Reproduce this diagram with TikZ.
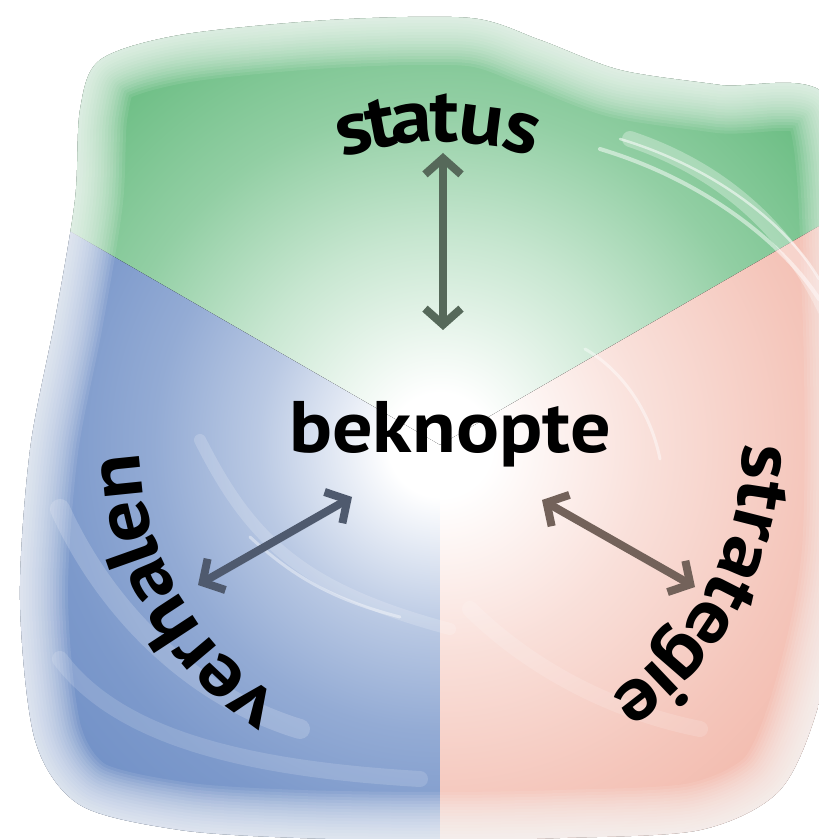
\documentclass[tikz,border=0pt]{standalone}
\usepackage{fontspec}
\setmainfont{PT Sans}
\newfontfamily\wordfont[FakeStretch=1.1]{PT Sans}
\usetikzlibrary{arrows.meta}
\definecolor{gr}{HTML}{5FB879}
\definecolor{bl}{HTML}{6587C2}
\definecolor{rd}{HTML}{E8826A}
\definecolor{arrG}{HTML}{56695A}
\definecolor{arrB}{HTML}{4F5A6E}
\definecolor{arrR}{HTML}{73625A}
\pgfdeclareradialshading{grshade}{\pgfpoint{0bp}{0bp}}{color(0bp)=(white); color(2bp)=(white); color(8bp)=(gr!35); color(13bp)=(gr!68); color(18bp)=(gr!90); color(23bp)=(gr!88); color(27bp)=(gr!55); color(32bp)=(gr!40); color(50bp)=(gr!25)}
\pgfdeclareradialshading{blshade}{\pgfpoint{0bp}{0bp}}{color(0bp)=(white); color(2bp)=(white); color(7bp)=(bl!45); color(11bp)=(bl!70); color(15bp)=(bl!85); color(22bp)=(bl!98); color(30bp)=(bl!92); color(50bp)=(bl!80)}
\pgfdeclareradialshading{rdshade}{\pgfpoint{0bp}{0bp}}{color(0bp)=(white); color(2bp)=(white); color(8bp)=(rd!25); color(14bp)=(rd!45); color(19bp)=(rd!58); color(24bp)=(rd!85); color(28bp)=(rd!82); color(33bp)=(rd!55); color(50bp)=(rd!40)}
\begin{document}
\begin{tikzpicture}[x=1pt,y=1pt,
  lett/.style={font=\fontsize{76}{88}\selectfont\wordfont\bfseries, inner sep=0pt, anchor=base, text=black},
  arr/.style={line width=8pt, {Straight Barb[length=16pt,width=36pt]}-{Straight Barb[length=16pt,width=36pt]}},
  streak/.style={white, line cap=round}]
\useasboundingbox (0,0) rectangle (819,839);
\fill[white] (0,0) rectangle (819,839);
\coordinate (C) at (440,394);
\def\blob{plot[smooth cycle] coordinates {(100,779) (180,804) (330,819) (470,821) (540,799) (620,769) (720,754) (830,739) (850,539) (850,289) (820,139) (780,49) (700,9) (560,1) (440,-1) (300,1) (180,9) (80,34) (35,99) (20,239) (30,389) (55,519) (75,639) (80,729)}}
\begin{scope}
  \clip \blob;
  % sectors
  \begin{scope}
    \clip (C) -- ++(30:1200) arc[start angle=30, end angle=150, radius=1200] -- cycle;
    \fill[shading=grshade] (C) circle[radius=650];
  \end{scope}
  \begin{scope}
    \clip (C) -- ++(150:1200) arc[start angle=150, end angle=270, radius=1200] -- cycle;
    \fill[shading=blshade] (C) circle[radius=650];
  \end{scope}
  \begin{scope}
    \clip (C) -- ++(270:1200) arc[start angle=270, end angle=390, radius=1200] -- cycle;
    \fill[shading=rdshade] (C) circle[radius=650];
  \end{scope}
  % swirl streaks
  \draw[streak, line width=12pt, opacity=0.18] (200,399) .. controls (250,300) and (300,250) .. (450,210);
  \draw[streak, line width=3pt, opacity=0.4] (250,302) .. controls (290,265) and (330,240) .. (400,222);
  \draw[streak, line width=20pt, opacity=0.18] (60,330) .. controls (110,220) and (200,140) .. (300,110);
  \draw[streak, line width=16pt, opacity=0.15] (60,180) .. controls (120,100) and (250,70) .. (420,60);
  \draw[streak, line width=16pt, opacity=0.3] (630,700) .. controls (720,670) and (790,610) .. (830,520);
  \draw[streak, line width=4pt, opacity=0.5] (600,690) .. controls (700,660) and (780,600) .. (819,540);
  \draw[streak, line width=2.5pt, opacity=0.55] (620,700) .. controls (720,670) and (790,610) .. (819,560);
  \draw[streak, line width=3pt, opacity=0.45] (585,490) .. controls (620,470) and (650,430) .. (660,380);
  \draw[streak, line width=16pt, opacity=0.15] (470,230) .. controls (520,180) and (600,130) .. (700,110);
  % soft outer edge
  \foreach \w in {6,12,...,96} {
    \draw[white, line width=\w pt, opacity=0.09] \blob;
  }
\end{scope}
% arrows
\coordinate (upA) at (443,686);
\coordinate (upB) at (443,509);
\coordinate (lfA) at (198,254);
\coordinate (lfB) at (352,342);
\coordinate (rtA) at (542,339);
\coordinate (rtB) at (695,252);
\draw[arr, arrG] (upA) -- (upB);
\draw[arr, arrB] (lfA) -- (lfB);
\draw[arr, arrR] (rtA) -- (rtB);
% centre word
\node[lett, font=\fontsize{73}{86}\selectfont\wordfont\bfseries] (bek) at (450,386) {beknopte};
% words on the circle
\foreach \a/\l [count=\i] in {105.5/s, 100.4/t, 95.0/a, 89.3/t, 82.7/u, 75.3/s}
  \node[lett, rotate=\a-90] (st\i) at ([shift={(\a:303)}]C) {\l};
\foreach \a/\l [count=\i] in {-3.0/s, -8.85/t, -14.2/r, -20.6/a, -27.0/t, -33.4/e, -40.9/g, -46.5/i, -52.1/e}
  \node[lett, rotate=\a-90] (sg\i) at ([shift={(\a:303)}]C) {\l};
\foreach \a/\l [count=\i] in {234.1/v, 226.7/e, 220.1/r, 213.2/h, 205.3/a, 199.6/l, 193.8/e, 185.8/n}
  \node[lett, rotate=\a-90] (vh\i) at ([shift={(\a:300)}]C) {\l};
\end{tikzpicture}
\end{document}
